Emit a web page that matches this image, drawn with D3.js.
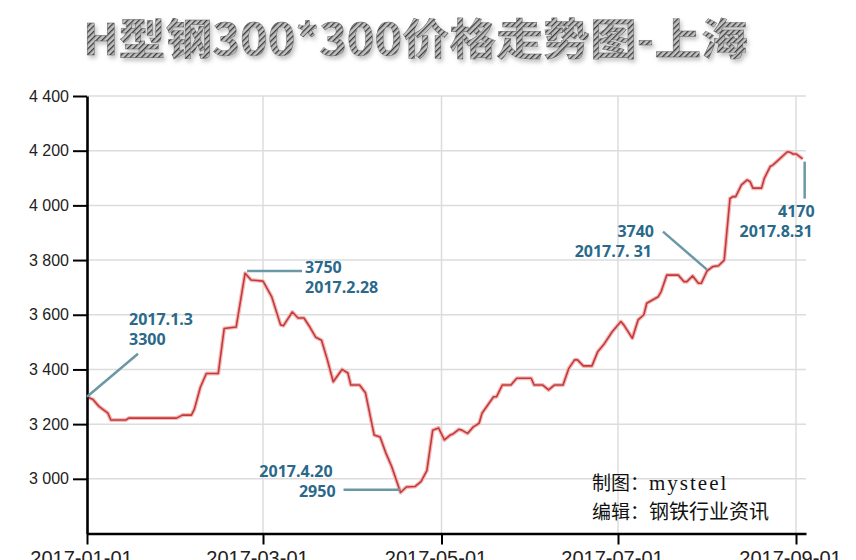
<!DOCTYPE html>
<html><head><meta charset="utf-8">
<script src="https://cdn.jsdelivr.net/npm/d3@7"></script>
<style>html,body{margin:0;padding:0;background:#fff;overflow:hidden}</style>
</head><body>
<svg id="chart" width="856" height="560"></svg>
<script>
// ---------- data ----------
const titleText = "H型钢300*300价格走势图-上海";
const dates = ["2017-01-01","2017-01-03","2017-01-05","2017-01-08","2017-01-09","2017-01-14","2017-01-15","2017-01-31",
"2017-02-02","2017-02-05","2017-02-06","2017-02-08","2017-02-10","2017-02-14","2017-02-16","2017-02-20","2017-02-23",
"2017-02-25","2017-03-01","2017-03-04","2017-03-07","2017-03-08","2017-03-11","2017-03-13","2017-03-15","2017-03-17",
"2017-03-19","2017-03-21","2017-03-23","2017-03-25","2017-03-28","2017-03-30","2017-03-31","2017-04-03","2017-04-05",
"2017-04-08","2017-04-10","2017-04-12","2017-04-14","2017-04-17","2017-04-19","2017-04-22","2017-04-24","2017-04-26",
"2017-04-28","2017-04-30","2017-05-02","2017-05-04","2017-05-05","2017-05-07","2017-05-08","2017-05-10","2017-05-12",
"2017-05-14","2017-05-15","2017-05-19","2017-05-20","2017-05-22","2017-05-25","2017-05-27","2017-06-01","2017-06-02",
"2017-06-05","2017-06-07","2017-06-09","2017-06-12","2017-06-14","2017-06-16","2017-06-17","2017-06-19","2017-06-22",
"2017-06-24","2017-06-26","2017-06-29","2017-07-02","2017-07-03","2017-07-06","2017-07-08","2017-07-10","2017-07-11",
"2017-07-15","2017-07-16","2017-07-18","2017-07-22","2017-07-24","2017-07-25","2017-07-27","2017-07-29","2017-07-30",
"2017-08-01","2017-08-03","2017-08-05","2017-08-07","2017-08-09","2017-08-10","2017-08-11","2017-08-13","2017-08-15",
"2017-08-16","2017-08-17","2017-08-20","2017-08-21","2017-08-23","2017-08-24","2017-08-26","2017-08-29","2017-08-30",
"2017-08-31","2017-09-01","2017-09-03"];
const prices = [3300,3290,3265,3240,3215,3215,3222,3222,
3233,3233,3255,3335,3385,3385,3550,3555,3752,
3727,3723,3665,3563,3560,3610,3588,3588,3555,
3518,3507,3435,3355,3400,3387,3343,3343,3315,
3160,3153,3094,3044,2950,2970,2972,2990,3030,
3178,3186,3142,3160,3164,3181,3178,3166,3190,
3203,3240,3300,3300,3343,3343,3368,3368,3343,
3343,3325,3343,3343,3404,3435,3435,3413,3413,
3465,3490,3538,3575,3563,3514,3581,3600,3642,
3666,3684,3745,3745,3721,3721,3742,3715,3715,
3760,3776,3779,3800,4025,4032,4032,4075,4093,
4087,4063,4063,4100,4142,4148,4167,4196,4194,
4188,4188,4170];
const yTicks = [3000,3200,3400,3600,3800,4000,4200,4400];
const xTicks = ["2017-01-01","2017-03-01","2017-05-01","2017-07-01","2017-09-01"];
const xDomain = ["2017-01-01","2017-03-01","2017-05-01","2017-07-01","2017-09-01","2017-09-04"];
const yDomain = [2800, 4400];
const noteDates = ["2017-01-01","2017-02-23","2017-04-17","2017-08-01","2017-09-03"];
const noteValues = [3300, 3760, 2960, 3765, 4160];
const noteTexts = [["2017.1.3","3300"],["3750","2017.2.28"],["2017.4.20","2950"],["3740","2017.7. 31"],["4170","2017.8.31"]];
const creditLabels = ["制图：","编辑："];
const creditValues = ["mysteel","钢铁行业资讯"];

// ---------- layout ----------
const xRange = [87, 263, 441.5, 618, 796, 806];
const yRange = [533.5, 96];
const noteLayout = [
  {leader:[[0,0],[51,-43]], anchor:"start", pos:[[42,-72],[42,-52]]},
  {leader:[[2,0],[57,0]],   anchor:"start", pos:[[60,2],[60,22]]},
  {leader:[[0,0],[-57,0]],  anchor:"end",   pos:[[-68,-13],[-65,7]]},
  {leader:[[0,0],[-44,-38]],anchor:"end",   pos:[[-53,-33],[-55,-13]]},
  {leader:[[2,0],[2,37]],   anchor:"end",   pos:[[12,55],[10,75]]}
];

const parse = d3.timeParse("%Y-%m-%d");
const svg = d3.select("#chart");
svg.append("rect").attr("width",856).attr("height",560).attr("fill","#fff");

const x = d3.scaleTime().domain(xDomain.map(parse)).range(xRange);
const y = d3.scaleLinear().domain(yDomain).range(yRange);

// defs: title pattern + shadow
const defs = svg.append("defs");
const pat = defs.append("pattern").attr("id","hatch").attr("patternUnits","userSpaceOnUse")
  .attr("width",4).attr("height",4).attr("patternTransform","rotate(45)");
pat.append("rect").attr("width",4).attr("height",4).attr("fill","#c2c2c2");
pat.append("rect").attr("width",1.3).attr("height",4).attr("fill","#3a3a3a");
const filt = defs.append("filter").attr("id","shadow").attr("x","-5%").attr("y","-20%").attr("width","110%").attr("height","150%");
filt.append("feDropShadow").attr("dx",2).attr("dy",3).attr("stdDeviation",2).attr("flood-color","#999").attr("flood-opacity",0.6);

// title
svg.append("text").attr("x",83).attr("y",55)
  .attr("font-family","'Noto Sans CJK SC', sans-serif").attr("font-weight",700)
  .attr("font-size",43).attr("textLength",665).attr("lengthAdjust","spacingAndGlyphs")
  .attr("fill","url(#hatch)").attr("stroke","#5a5a5a").attr("stroke-width",0.4)
  .attr("filter","url(#shadow)").text(titleText);

// grid
const grid = svg.append("g").attr("stroke","#dcdcdc").attr("stroke-width",1.5);
grid.selectAll("line.h").data(yTicks).join("line").attr("class","h")
  .attr("x1",xRange[0]).attr("x2",xRange[xRange.length-1])
  .attr("y1",d=>y(d)).attr("y2",d=>y(d));
grid.selectAll("line.v").data(xTicks.slice(1).map(parse)).join("line").attr("class","v")
  .attr("x1",d=>x(d)).attr("x2",d=>x(d)).attr("y1",y(yDomain[1])).attr("y2",y(yDomain[0]));

// line
const pts = dates.map((d,i)=>({d:parse(d), v:prices[i]}));
const lineGen = d3.line().x(p=>x(p.d)).y(p=>y(p.v));
svg.append("path").datum(pts).attr("d",lineGen).attr("fill","none")
  .attr("stroke","#f3b9b9").attr("stroke-width",4).attr("stroke-linejoin","round");
svg.append("path").datum(pts).attr("d",lineGen).attr("fill","none")
  .attr("stroke","#c23a3a").attr("stroke-width",1.6).attr("stroke-linejoin","round");

// axes
const loc = d3.formatLocale({decimal:".", thousands:" ", grouping:[3], currency:["",""]});
const yAxis = d3.axisLeft(y).tickValues(yTicks).tickSize(14).tickSizeOuter(0).tickPadding(4).tickFormat(loc.format(",d"));
const gy = svg.append("g").attr("transform",`translate(${xRange[0]},0)`).call(yAxis);
gy.select(".domain").attr("stroke","#000").attr("stroke-width",2.6);
gy.selectAll(".tick line").attr("stroke","#000").attr("stroke-width",2);
gy.selectAll(".tick text").attr("font-family","'Liberation Sans', Arial, sans-serif").attr("font-size",16).attr("fill","#222");

const xAxis = d3.axisBottom(x).tickValues(xTicks.map(parse)).tickSize(11).tickSizeOuter(0).tickPadding(6)
  .tickFormat(d3.timeFormat("%Y-%m-%d"));
const gx = svg.append("g").attr("transform",`translate(0,${yRange[0]})`).call(xAxis);
gx.select(".domain").attr("stroke","#000").attr("stroke-width",2.6);
gx.selectAll(".tick line").attr("stroke","#000").attr("stroke-width",2);
gx.selectAll(".tick text").attr("font-family","'Liberation Sans', Arial, sans-serif").attr("font-size",20)
  .attr("fill","#222").attr("dx",-6);

// annotations
noteDates.forEach((nd,i)=>{
  const ax = x(parse(nd)), ay = y(noteValues[i]), L = noteLayout[i];
  const g = svg.append("g");
  g.append("line").attr("x1",ax+L.leader[0][0]).attr("y1",ay+L.leader[0][1])
    .attr("x2",ax+L.leader[1][0]).attr("y2",ay+L.leader[1][1])
    .attr("stroke","#6b98a4").attr("stroke-width",2.5);
  noteTexts[i].forEach((t,j)=>{
    g.append("text").attr("x",ax+L.pos[j][0]).attr("y",ay+L.pos[j][1])
      .attr("text-anchor",L.anchor).attr("font-family","'Open Sans', sans-serif")
      .attr("font-weight",700).attr("font-size",16).attr("fill","#2a698a").text(t);
  });
});

// credits: two separate lines, each one text element
const creditY = [490, 519];
creditLabels.forEach((lab,i)=>{
  const t = svg.append("text").attr("x",592).attr("y",creditY[i]).attr("fill","#111")
    .attr("font-family","'Noto Sans CJK SC', sans-serif").attr("font-size",19);
  t.append("tspan").text(lab);
  const v = t.append("tspan").text(creditValues[i]);
  if (i===0) v.attr("font-family","'Liberation Serif', serif").attr("font-size",21).attr("letter-spacing",2);
  else v.attr("font-size",20);
});
</script>
</body></html>
